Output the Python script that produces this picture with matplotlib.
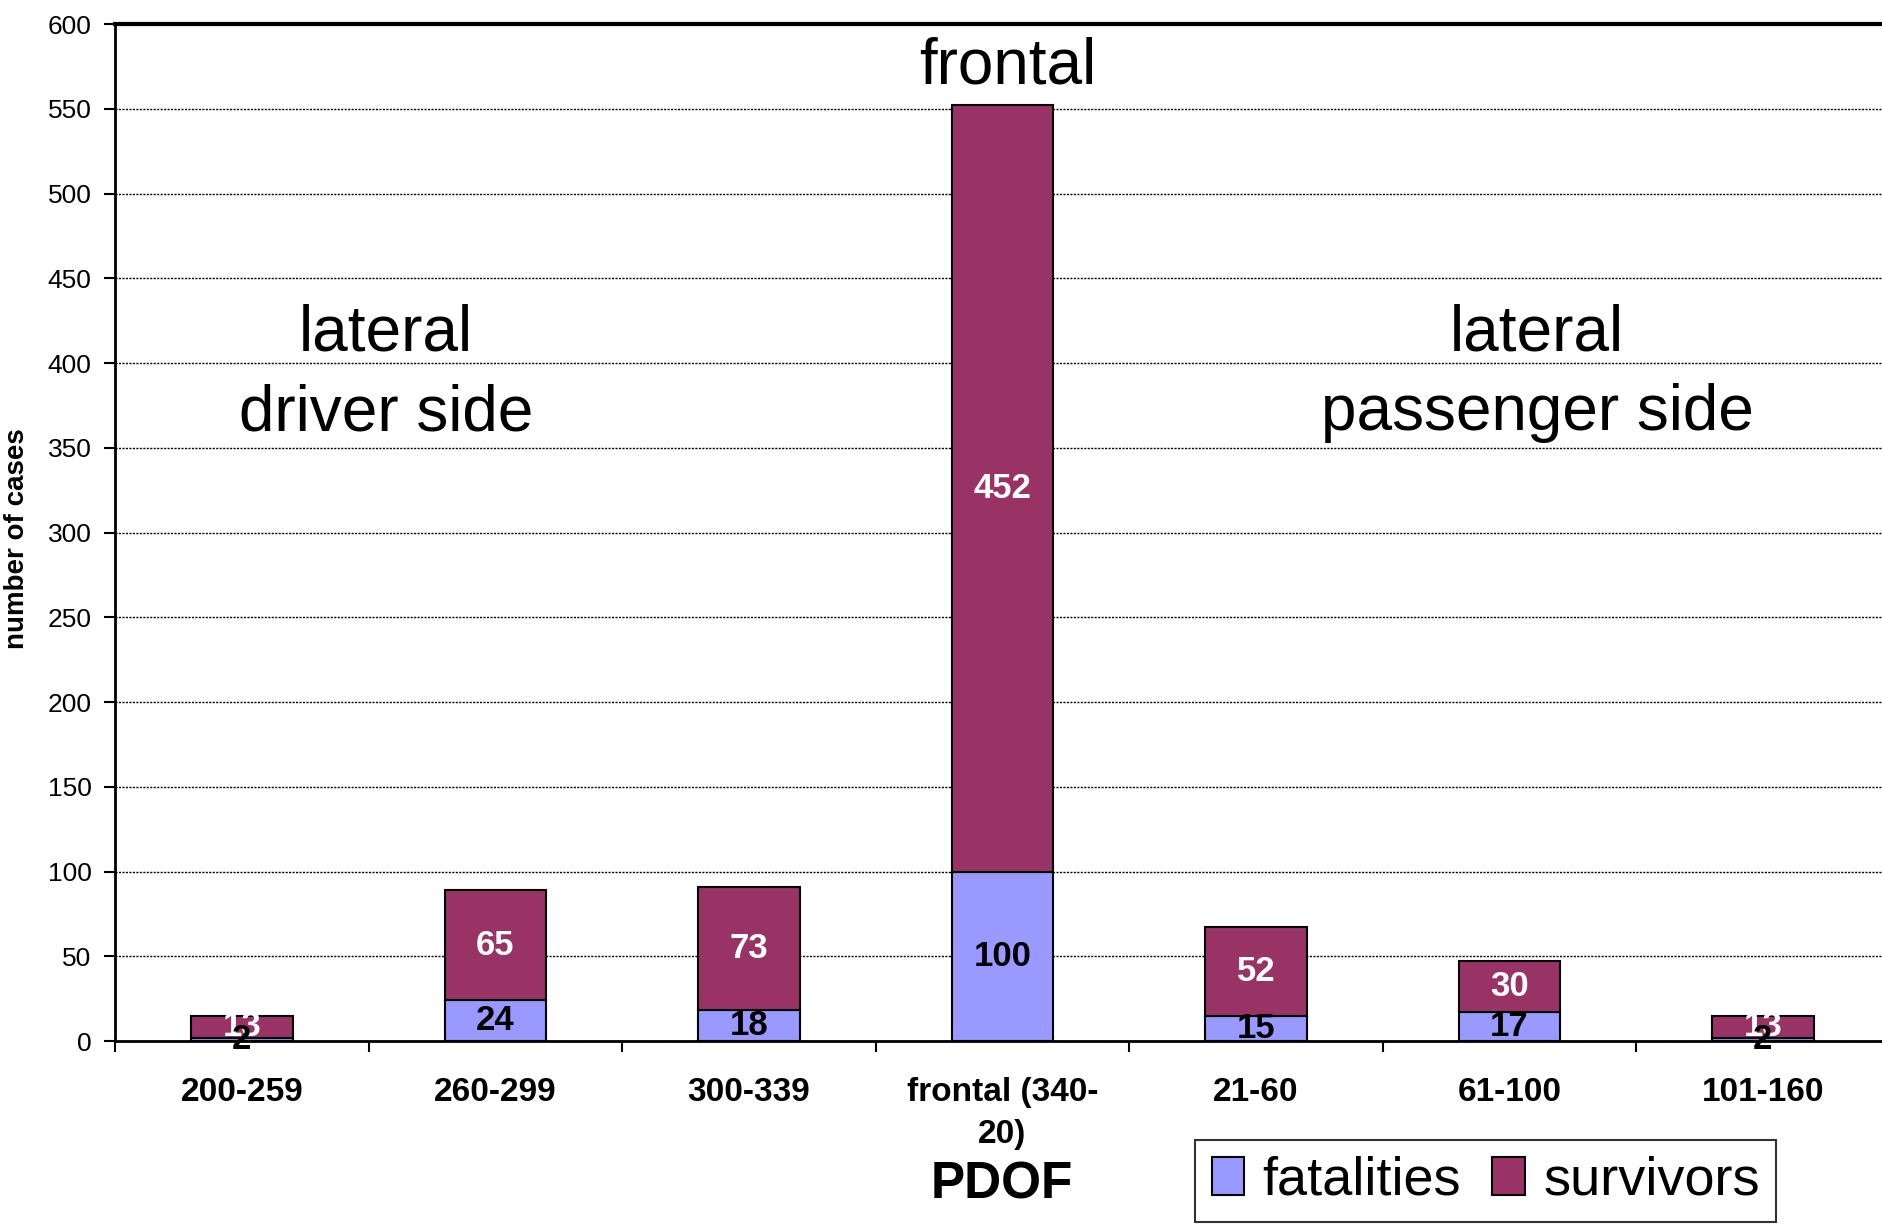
import numpy as np
import matplotlib
matplotlib.use("Agg")
import matplotlib.pyplot as plt

plt.rcParams['font.family'] = ['Liberation Sans', 'DejaVu Sans']

# data
categories = ["200-259", "260-299", "300-339", "frontal (340-\n20)", "21-60", "61-100", "101-160"]
fatalities = [2, 24, 18, 100, 15, 17, 2]
survivors = [13, 65, 73, 452, 52, 30, 13]

col_fat = "#9999FF"
col_surv = "#993366"

fig = plt.figure(figsize=(18.83, 12.25), dpi=100)
ax = fig.add_axes([0.0611, 0.1502, 0.9424, 0.8302])

x = np.arange(len(categories))
w = 0.4
b1 = ax.bar(x, fatalities, w, color=col_fat, edgecolor="black", linewidth=1.5,
            label="fatalities", zorder=3)
b2 = ax.bar(x, survivors, w, bottom=fatalities, color=col_surv, edgecolor="black",
            linewidth=1.5, label="survivors", zorder=3)

# segment labels
for i in range(len(x)):
    ax.text(x[i], fatalities[i] / 2, str(fatalities[i]), ha="center", va="center",
            fontsize=25, fontweight="bold", color="black", zorder=5)
    ax.text(x[i], fatalities[i] + survivors[i] / 2, str(survivors[i]), ha="center",
            va="center", fontsize=25, fontweight="bold", color="white", zorder=4)

ax.set_xlim(-0.5, len(categories) - 0.5)
ax.set_ylim(0, 600)
ax.set_yticks(np.arange(0, 601, 50))
ax.tick_params(axis="y", labelsize=19, length=8, width=1.5, pad=9)

ax.set_xticks(x)
ax.set_xticklabels(categories, fontsize=24, fontweight="bold", linespacing=1.45)
ax.set_xticks(np.arange(-0.5, len(categories)), minor=True)
ax.tick_params(axis="x", which="major", length=0, pad=26)
ax.tick_params(axis="x", which="minor", length=8, width=1.5)

ax.yaxis.grid(True, linestyle=(0, (1.5, 1.0)), color="black", linewidth=1.0, zorder=0)
ax.set_axisbelow(True)

ax.spines["right"].set_visible(False)
for s in ["left", "bottom"]:
    ax.spines[s].set_linewidth(2)
ax.spines["top"].set_linewidth(3)

ax.set_ylabel("number of cases", fontsize=20, fontweight="bold")
ax.yaxis.set_label_coords(-0.048, 0.494)

# region annotations
ax.text(0.57, 394, "lateral\ndriver side", ha="center", va="center", fontsize=46,
        linespacing=1.42)
ax.text(5.11, 394, "lateral\npassenger side", ha="center", va="center", fontsize=46,
        linespacing=1.42)
ax.text(3.02, 575, "frontal", ha="center", va="center", fontsize=46)

fig.text(0.532, 0.033, "PDOF", ha="center", va="center", fontsize=37, fontweight="bold")

leg = fig.legend(handles=[b1, b2], labels=["fatalities", "survivors"], loc="center",
                 bbox_to_anchor=(0.789, 0.036), ncol=2, fontsize=39, frameon=True,
                 fancybox=False, edgecolor="black", handlelength=0.6, handleheight=0.72,
                 handletextpad=0.34, columnspacing=0.57, borderpad=0.3,
                 borderaxespad=0)
leg.get_frame().set_linewidth(1.5)

fig.savefig("out.png", dpi=100)
